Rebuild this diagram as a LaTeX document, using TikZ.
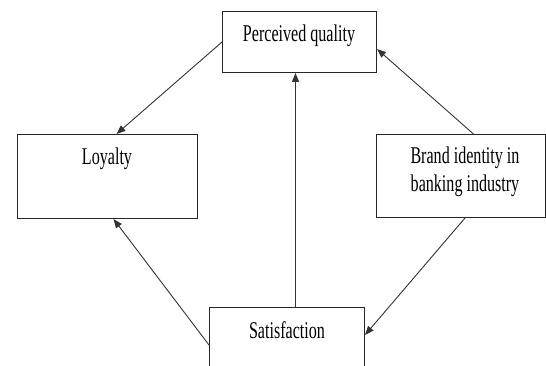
\documentclass[tikz,border=0pt]{standalone}
\usepackage{fontspec}
\setmainfont[FakeStretch=0.67]{Liberation Serif}
\usetikzlibrary{arrows.meta,calc}
\begin{document}
\begin{tikzpicture}[x=1pt,y=-1pt,
  box/.style={draw=black!85,line width=1pt,rectangle,inner sep=0pt,anchor=north west},
  txt/.style={font=\fontsize{24}{28}\selectfont,inner sep=0pt,anchor=base,align=center,text=black},
  arr/.style={draw=black!80,line width=0.9pt,-{Triangle[length=9pt,width=7pt]}}]
\useasboundingbox (0,0) rectangle (546,366);
\clip (0,0) rectangle (546,366);
\node[box,minimum width=154pt,minimum height=61pt] (pq) at (222,11) {};
\node[box,minimum width=180pt,minimum height=84pt] (loy) at (17,134) {};
\node[box,minimum width=169pt,minimum height=83pt] (br) at (376,134) {};
\node[box,minimum width=155pt,minimum height=80pt] (sat) at (209,307) {};
\node[txt] (pqt) at (299,42) {Perceived quality};
\node[txt] (loyt) at (107,165) {Loyalty};
\node[txt] (brt1) at (465,164) {Brand identity in};
\node[txt] (brt2) at (465,192) {banking industry};
\node[txt] (satt) at (287,338) {Satisfaction};
\draw[arr] (pq.west) -- ([xshift=9pt]loy.north);
\draw[arr] ([xshift=12.5pt]br.north) -- ([yshift=-7pt]pq.east);
\draw[arr] ([xshift=8.5pt]sat.north) -- ([xshift=-4pt]pq.south);
\draw[arr] ([xshift=4pt]br.south) -- (sat.north east |- 0,335);
\draw[arr] (sat.north west |- 0,345) -- ([xshift=6pt]loy.south);
\end{tikzpicture}
\end{document}
